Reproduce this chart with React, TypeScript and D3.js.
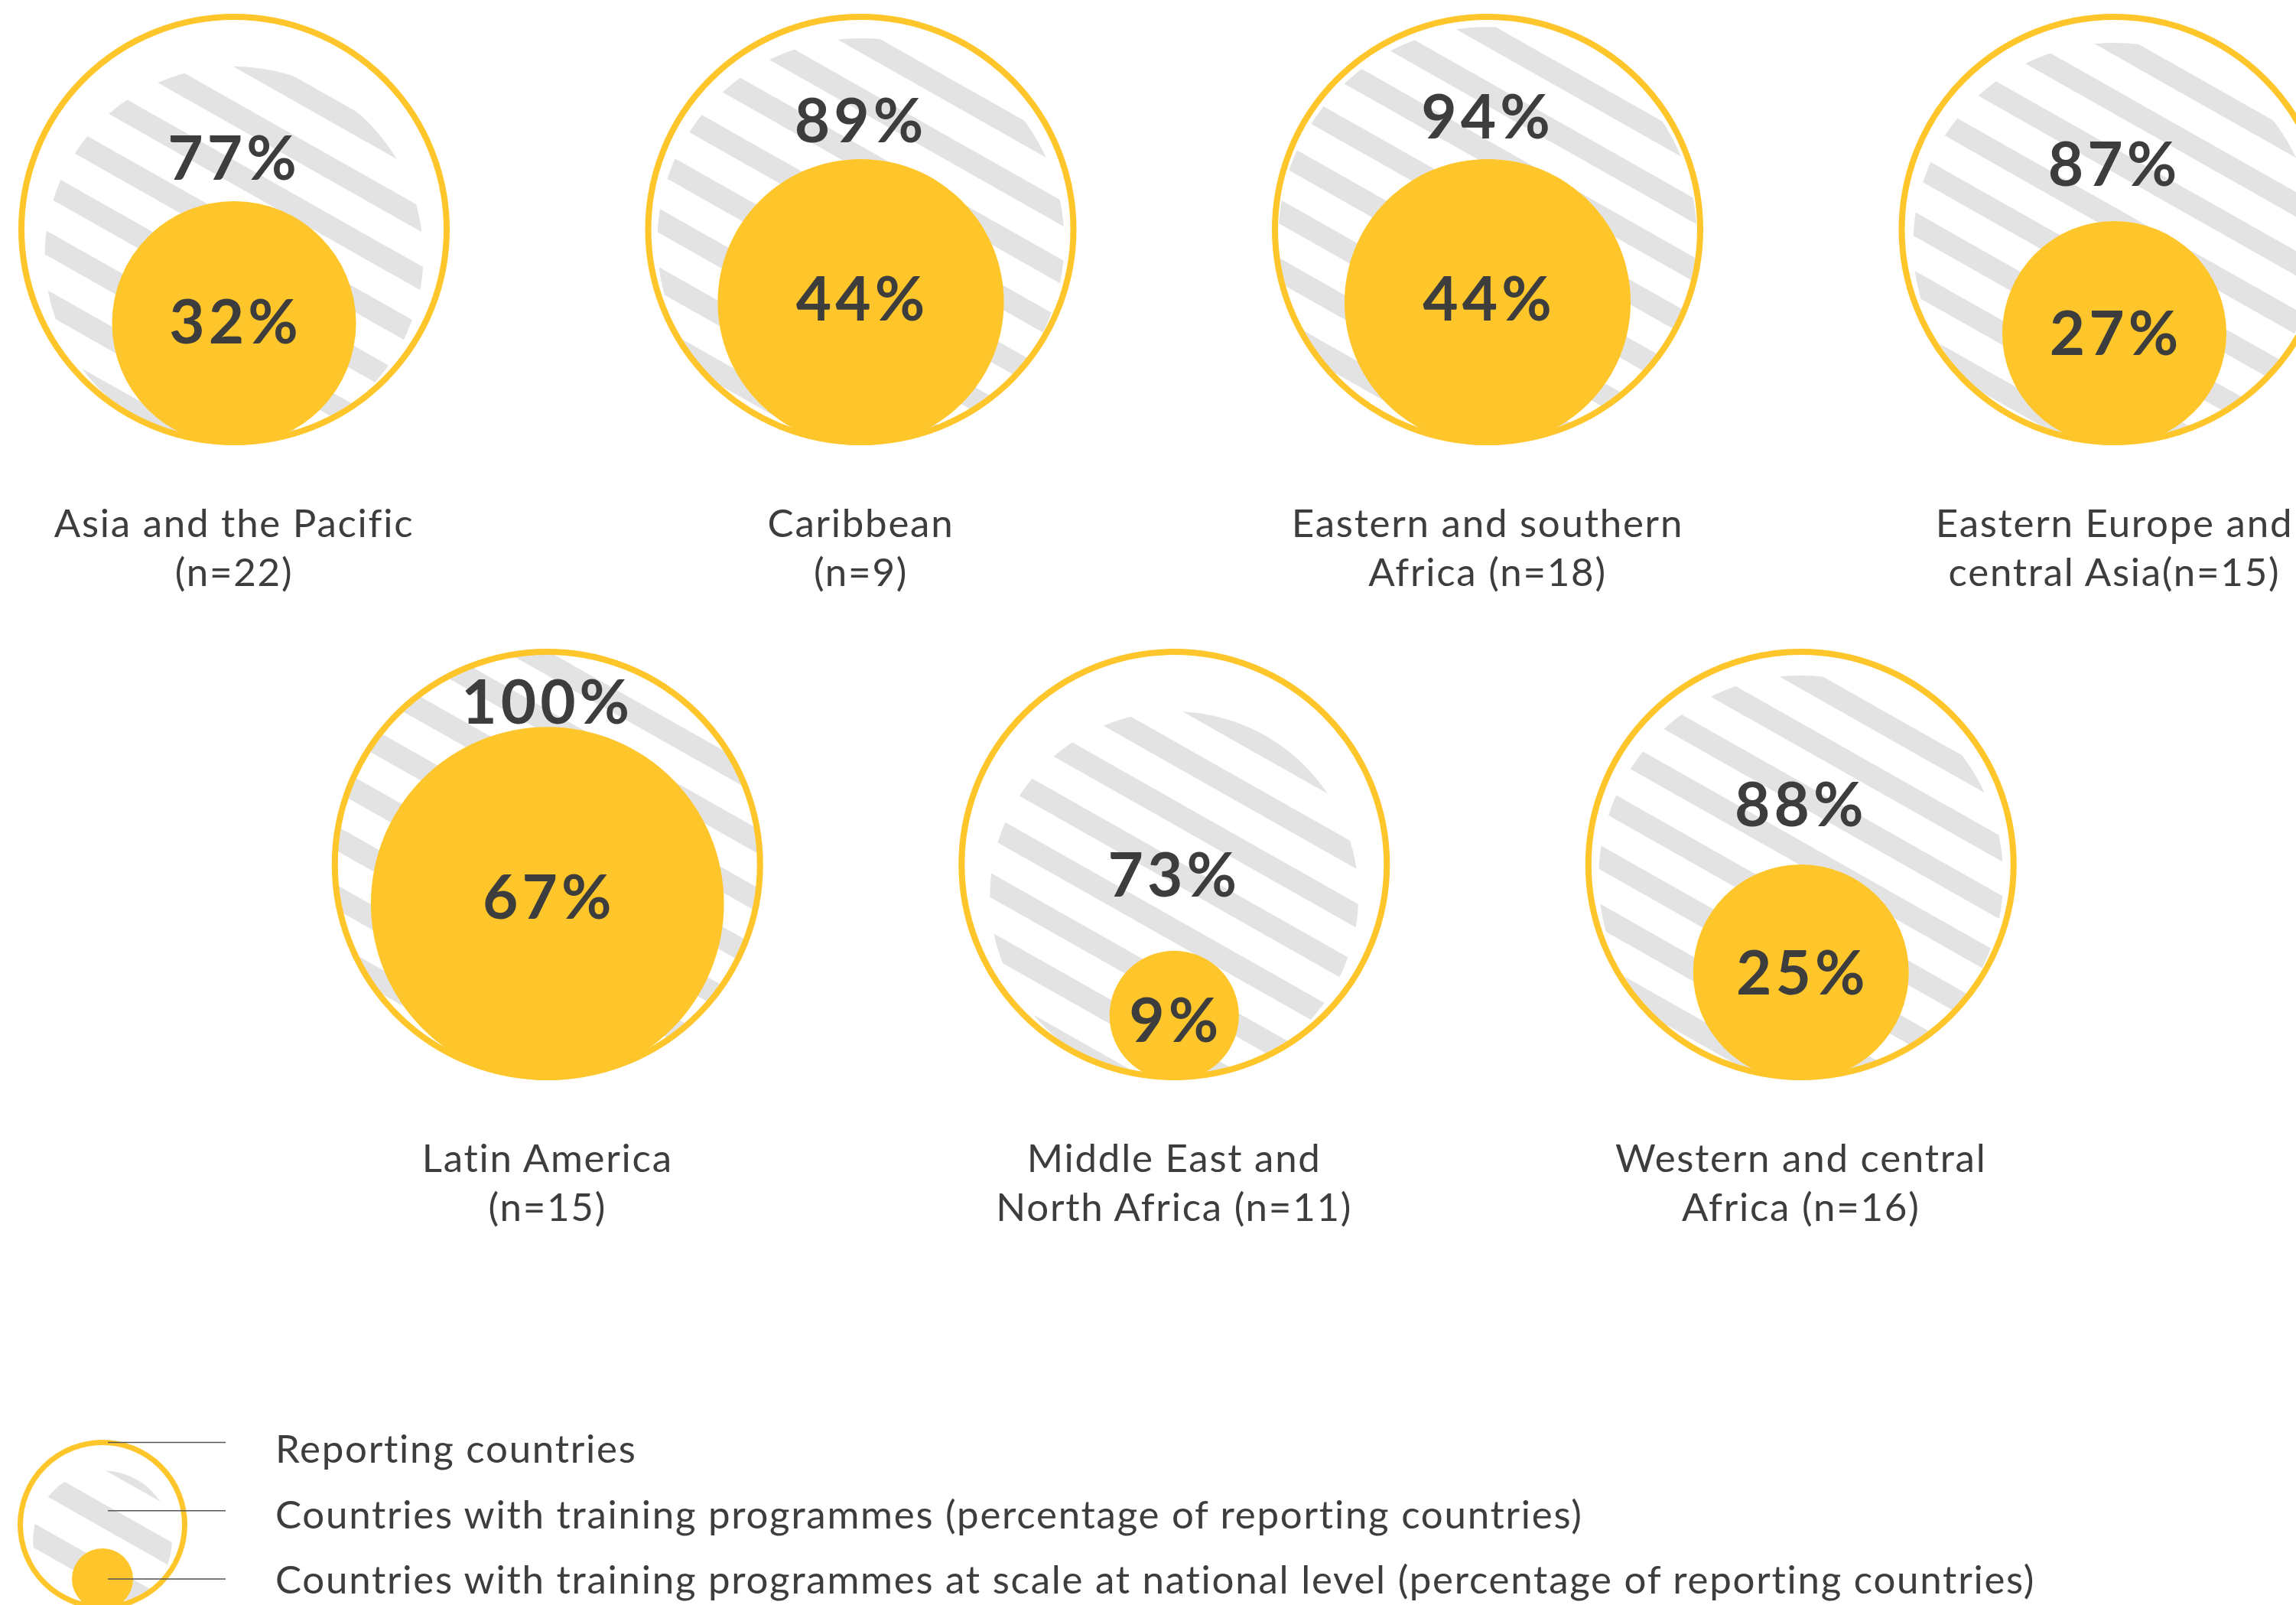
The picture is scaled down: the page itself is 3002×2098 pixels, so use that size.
import React from "react";
import * as d3 from "d3";

const width = 3002;
const height = 2098;

// data
const labelLine1 = [
  "Asia and the Pacific",
  "Caribbean",
  "Eastern and southern",
  "Eastern Europe and",
  "Latin America",
  "Middle East and",
  "Western and central",
];
const labelLine2 = [
  "(n=22)",
  "(n=9)",
  "Africa (n=18)",
  "central Asia(n=15)",
  "(n=15)",
  "North Africa (n=11)",
  "Africa (n=16)",
];
const trainingPct = [77, 89, 94, 87, 100, 73, 88];
const atScalePct = [32, 44, 44, 27, 67, 9, 25];

const gridCol = [0, 2, 4, 6, 1, 3, 5];
const gridRow = [0, 0, 0, 0, 1, 1, 1];

const legendLabels = [
  "Reporting countries",
  "Countries with training programmes (percentage of reporting countries)",
  "Countries with training programmes at scale at national level (percentage of reporting countries)",
];
const legendSample = [67, 13];

const yellow = "#FEC62A";
const stripeColor = "#E3E3E3";
const textColor = "#3D3D3D";
const fontFamily = "Lato, 'Noto Sans', sans-serif";

const outerR = 282;
const strokeW = 8;
const stripeAngle = 29.5;
const stripePeriod = 67;
const stripeWidth = 28;
const stripePhase = 25;

const labelSize = 51;
const labelSpacing = 1.75;

const xPos = d3.scaleLinear().domain([0, 6]).range([306, 2764.5]);
const yPos = d3.scaleLinear().domain([0, 1]).range([300, 1130]);
const rScale = d3.scaleSqrt().domain([0, 100]).range([0, outerR]);

const Stripes = ({ id, cx, cy, r }) => {
  const ks = d3.range(-Math.ceil(r / stripePeriod) - 1, Math.ceil(r / stripePeriod) + 1);
  return (
    <g>
      <defs>
        <clipPath id={id}>
          <circle cx={cx} cy={cy} r={r} />
        </clipPath>
      </defs>
      <g clipPath={`url(#${id})`}>
        <g transform={`translate(${cx},${cy}) rotate(${stripeAngle})`}>
          {ks.map((k) => (
            <rect
              key={k}
              x={-r - 10}
              y={stripePhase + k * stripePeriod}
              width={2 * r + 20}
              height={stripeWidth}
              fill={stripeColor}
            />
          ))}
        </g>
      </g>
    </g>
  );
};

const Bubble = ({ i }) => {
  const cx = xPos(gridCol[i]);
  const cy = yPos(gridRow[i]);
  const bottom = cy + outerR;
  const rT = rScale(trainingPct[i]);
  const rS = rScale(atScalePct[i]);
  const hatchTop = bottom - 2 * rT;
  const yellowTop = bottom - 2 * rS;
  const topLabelY = hatchTop + 0.68 * (yellowTop - hatchTop);
  const innerLabelY = bottom - rS + 14 - 0.1 * rS;
  return (
    <g>
      <Stripes id={`clip-${i}`} cx={cx} cy={bottom - rT} r={rT} />
      <circle cx={cx} cy={bottom - rS} r={rS} fill={yellow} />
      <circle cx={cx} cy={cy} r={outerR - strokeW / 2} fill="none" stroke={yellow} strokeWidth={strokeW} />
      <text
        x={cx}
        y={topLabelY}
        dy="0.36em"
        textAnchor="middle"
        fontSize={80}
        fontWeight={700}
        letterSpacing={5}
        fill={textColor}
      >
        {trainingPct[i]}%
      </text>
      <text
        x={cx + 2}
        y={innerLabelY}
        dy="0.36em"
        textAnchor="middle"
        fontSize={80}
        fontWeight={700}
        letterSpacing={5}
        fill={textColor}
      >
        {atScalePct[i]}%
      </text>
      <text
        x={cx}
        y={bottom + 120}
        textAnchor="middle"
        fontSize={labelSize}
        letterSpacing={labelSpacing}
        fill={textColor}
      >
        {labelLine1[i]}
      </text>
      <text
        x={cx}
        y={bottom + 184}
        textAnchor="middle"
        fontSize={labelSize}
        letterSpacing={labelSpacing}
        fill={textColor}
      >
        {labelLine2[i]}
      </text>
    </g>
  );
};

const Legend = () => {
  const cx = 134;
  const cy = 1993;
  const R = 111;
  const lr = d3.scaleSqrt().domain([0, 100]).range([0, R]);
  const bottom = cy + R;
  const rT = lr(legendSample[0]);
  const rS = lr(legendSample[1]);
  const lineYs = [cy - R + 3.5, 0, bottom - rS];
  lineYs[1] = (lineYs[0] + lineYs[2]) / 2;
  const textY = d3.scaleLinear().domain([0, 2]).range([1912, 2083]);
  return (
    <g>
      <Stripes id="clip-legend" cx={cx} cy={bottom - rT} r={rT} />
      <circle cx={cx} cy={bottom - rS} r={rS} fill={yellow} />
      <circle cx={cx} cy={cy} r={R - 3.5} fill="none" stroke={yellow} strokeWidth={7} />
      {lineYs.map((y, i) => (
        <line key={i} x1={141} x2={295} y1={y} y2={y} stroke="#555" strokeWidth={1.5} />
      ))}
      {legendLabels.map((t, i) => (
        <text
          key={i}
          x={360}
          y={textY(i)}
          fontSize={labelSize}
          letterSpacing={labelSpacing}
          fill={textColor}
        >
          {t}
        </text>
      ))}
    </g>
  );
};

const App = () => {
  return (
    <svg
      width={width}
      height={height}
      style={{ position: "absolute", left: 0, top: 0, background: "#fff" }}
      fontFamily={fontFamily}
    >
      <rect width={width} height={height} fill="#fff" />
      {trainingPct.map((_, i) => (
        <Bubble key={i} i={i} />
      ))}
      <Legend />
    </svg>
  );
};

export default App;
